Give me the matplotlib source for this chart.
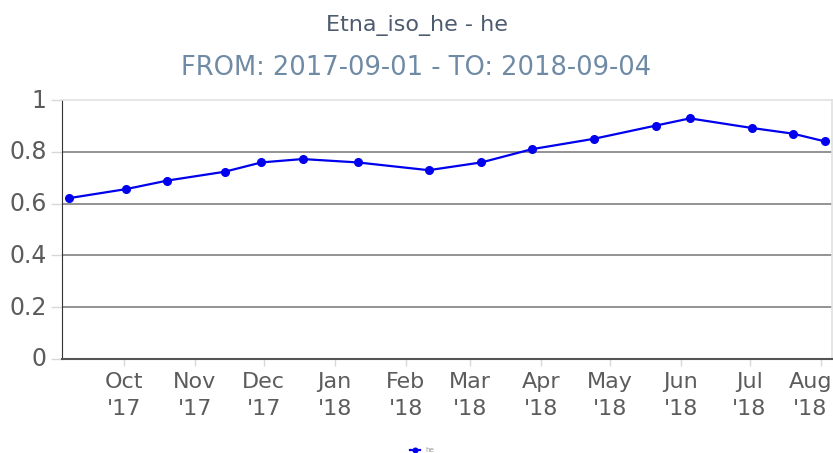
import matplotlib
matplotlib.use("Agg")
import matplotlib.pyplot as plt
import matplotlib.dates as mdates
import matplotlib.transforms as mtransforms
import pandas as pd

# data
dates = pd.to_datetime([
    "2017-09-07", "2017-10-02", "2017-10-20", "2017-11-14", "2017-11-30",
    "2017-12-18", "2018-01-11", "2018-02-11", "2018-03-06", "2018-03-28",
    "2018-04-24", "2018-05-21", "2018-06-05", "2018-07-02", "2018-07-20",
    "2018-08-03",
])
he_values = [0.621, 0.656, 0.689, 0.723, 0.759, 0.772, 0.759, 0.729,
             0.759, 0.810, 0.850, 0.901, 0.929, 0.892, 0.870, 0.840]
y_ticks = [0, 0.2, 0.4, 0.6, 0.8, 1]
y_labels = ["0", "0.2", "0.4", "0.6", "0.8", "1"]

title = "Etna_iso_he - he"
subtitle = "FROM: 2017-09-01 - TO: 2018-09-04"

plt.rcParams["font.family"] = ["DejaVu Sans"]

fig = plt.figure(figsize=(8.33, 4.53), dpi=100)
ax = fig.add_axes([62 / 833, 94 / 453, 770 / 833, 259 / 453])

ax.plot(dates, he_values, color="#0000ee", lw=1.6, marker="o", ms=5.5,
        label="he", zorder=3)

ax.set_ylim(0, 1)
ax.set_yticks(y_ticks)
ax.set_yticklabels(y_labels)
ax.set_xlim(pd.Timestamp("2017-09-04"), pd.Timestamp("2018-08-06"))

ax.xaxis.set_major_locator(mdates.MonthLocator())
ax.xaxis.set_major_formatter(mdates.DateFormatter("%b\n'%y"))

for y in y_ticks[1:-1]:
    ax.axhline(y, color="#808080", lw=1.2, zorder=1)

for side in ["top", "right"]:
    ax.spines[side].set_color("#e0e0e0")
    ax.spines[side].set_linewidth(1.2)
ax.spines["left"].set_color("#333333")
ax.spines["bottom"].set_color("#555555")
ax.spines["bottom"].set_linewidth(1.5)

ax.tick_params(axis="y", colors="#d8d8d8", labelcolor="#5c5c5c",
               labelsize=17, length=8, width=1, pad=3)
ax.tick_params(axis="x", colors="#d8d8d8", labelcolor="#5c5c5c",
               labelsize=16, length=5, width=1, pad=4)
for lbl in ax.get_yticklabels():
    lbl.set_va("bottom")
    lbl.set_transform(lbl.get_transform() + mtransforms.ScaledTranslation(
        0, -9 / 72, fig.dpi_scale_trans))
for lbl in ax.get_xticklabels():
    lbl.set_linespacing(1.45)
# keep the last month label inside the figure
last = ax.get_xticklabels()[-1]
last.set_transform(last.get_transform() + mtransforms.ScaledTranslation(
    -10 / 100, 0, fig.dpi_scale_trans))

fig.text(0.5, 1 - 25 / 453, title, ha="center", va="center",
         fontsize=16, color="#4d5b6e")
fig.text(0.5, 1 - 68 / 453, subtitle, ha="center", va="center",
         fontsize=18.5, color="#6f8aa5")

ax.legend(loc="center", frameon=False, fontsize=5,
          labelcolor="#999999", handlelength=1.5, markerscale=0.6)
leg = ax.get_legend()
leg.set_bbox_to_anchor((422 / 833, 3 / 453), transform=fig.transFigure)

fig.savefig("out.png", dpi=100)
